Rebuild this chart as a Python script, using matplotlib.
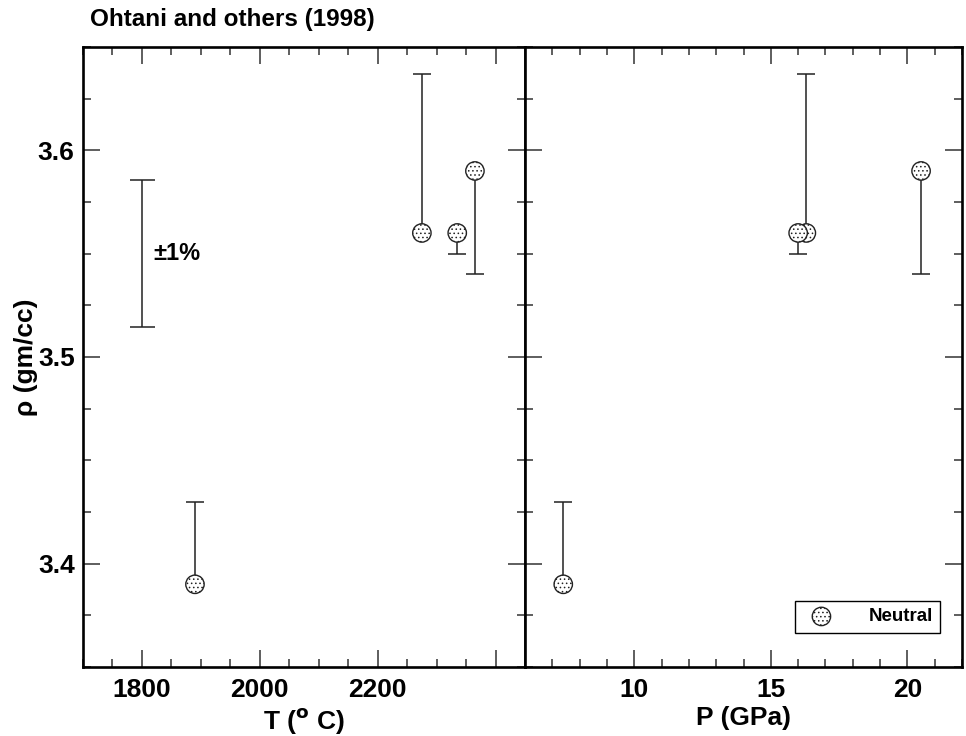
import numpy as np
import matplotlib
matplotlib.use("Agg")
import matplotlib.pyplot as plt
from matplotlib.ticker import MultipleLocator


# data
temp_c = [1890, 2275, 2335, 2365]
pres_gpa = [7.4, 16.3, 16.0, 20.5]
rho = [3.39, 3.56, 3.56, 3.59]
err_lo = [0.0, 0.0, 0.01, 0.05]
err_hi = [0.04, 0.077, 0.0, 0.0]

# +-1% reference bar
ref_t = 1800
ref_rho = 3.55
ref_frac = 0.01

t_ticks = [1800, 2000, 2200, 2400]
t_labels = ['1800', '2000', '2200', '']
p_ticks = [10, 15, 20]
p_labels = ['10', '15', '20']
rho_ticks = [3.4, 3.5, 3.6]
rho_labels = ['3.4', '3.5', '3.6']


plt.rcParams['font.family'] = ['Liberation Sans', 'DejaVu Sans']
plt.rcParams['font.weight'] = 'bold'
plt.rcParams['hatch.linewidth'] = 0.6
plt.rcParams['hatch.color'] = '#333333'

fig = plt.figure(figsize=(9.66, 7.36), dpi=100)
ax1 = fig.add_axes([0.0859, 0.0938, 0.4576, 0.8424])
ax2 = fig.add_axes([0.5435, 0.0938, 0.4524, 0.8424])

ERR_COLOR = '#222222'
MS = 175
FS = 19


def style_axis(ax):
  for s in ax.spines.values():
      s.set_linewidth(1.9)
  ax.tick_params(which='both', direction='in', top=True, right=True,
                 color='#333333', width=1.1, labelsize=FS, pad=8)
  ax.tick_params(which='major', length=12)
  ax.tick_params(which='minor', length=6)
  ax.set_ylim(3.35, 3.65)
  ax.set_yticks(rho_ticks)
  ax.yaxis.set_minor_locator(MultipleLocator(0.025))


def draw_points(ax, xs):
  ax.errorbar(xs, rho, yerr=[err_lo, err_hi], fmt='none', ecolor=ERR_COLOR,
              elinewidth=1.1, capsize=6.5, capthick=1.1, zorder=2)
  return ax.scatter(xs, rho, s=MS, facecolor='white', edgecolor='#222222',
                    linewidths=1.0, hatch='....', zorder=3, label='Neutral')


# left panel: temperature
style_axis(ax1)
draw_points(ax1, temp_c)
ax1.errorbar([ref_t], [ref_rho], yerr=[[ref_rho * ref_frac], [ref_rho * ref_frac]],
             fmt='none', ecolor=ERR_COLOR, elinewidth=1.1, capsize=9, capthick=1.1)
ax1.text(ref_t + 20, ref_rho, '±1%', fontsize=17, fontweight='bold', va='center')
ax1.set_xlim(1700, 2450)
ax1.set_xticks(t_ticks)
ax1.set_xticklabels(t_labels)
ax1.xaxis.set_minor_locator(MultipleLocator(50))
ax1.tick_params(axis='y', pad=6)
ax1.set_yticklabels(rho_labels)
ax1.set_xlabel(r'T ($^{\mathbf{o}}$ C)', fontsize=FS, fontweight='bold', labelpad=3)
ax1.set_ylabel('ρ (gm/cc)', fontsize=FS, fontweight='bold', labelpad=0)

# right panel: pressure
style_axis(ax2)
sc = draw_points(ax2, pres_gpa)
ax2.set_xlim(6, 22)
ax2.set_xticks(p_ticks)
ax2.set_xticklabels(p_labels)
ax2.xaxis.set_minor_locator(MultipleLocator(1))
ax2.set_yticklabels([])
ax2.set_xlabel('P (GPa)', fontsize=FS, fontweight='bold', labelpad=3)

leg = ax2.legend(handles=[sc], loc='lower right', bbox_to_anchor=(0.95, 0.055),
                 fancybox=False, framealpha=1, edgecolor='black',
                 prop={'size': 13.5, 'weight': 'bold'}, handletextpad=1.5,
                 borderpad=0.4, borderaxespad=0, scatterpoints=1)
leg.get_frame().set_linewidth(1.0)

fig.text(0.093, 0.973, 'Ohtani and others (1998)', fontsize=17.5, fontweight='bold',
         va='center', ha='left')

fig.savefig('out.png', dpi=100)
